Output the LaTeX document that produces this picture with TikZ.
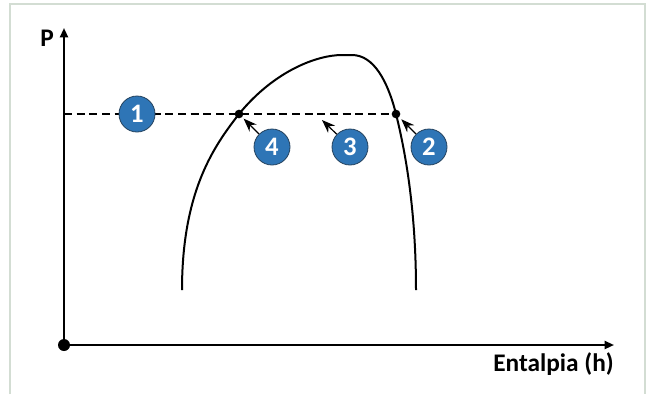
\documentclass[tikz,border=0pt]{standalone}
\usepackage{fontspec}
\setmainfont{Carlito}
\usepackage{tikz}
\usetikzlibrary{arrows.meta,positioning,calc}
\definecolor{Frame}{HTML}{D3DDD3}
\definecolor{PointBlue}{HTML}{2E75B6}
\definecolor{PointEdge}{HTML}{24425E}

\begin{document}
\begin{tikzpicture}[x=0.75pt,y=-0.75pt,
    every node/.style={font=\bfseries\fontsize{19}{22}\selectfont},
    axis/.style={line width=1.5pt,-{Triangle[length=7pt,width=6pt]}},
    num/.style={circle,fill=PointBlue,draw=PointEdge,line width=0.6pt,
      minimum size=27pt,inner sep=0pt,text=white,
      font=\bfseries\fontsize{20}{22}\selectfont},
    dot/.style={circle,fill=black,inner sep=0pt,minimum size=6.5pt},
    pointer/.style={line width=0.9pt,-{Stealth[length=10pt,width=7.5pt]}}]
      \useasboundingbox (0,0) rectangle (646,394);
      \draw[Frame,line width=1.6pt] (10,394) -- (10,4) -- (645,4) -- (645,394);

      % axes
      \node[dot,minimum size=9pt] (o) at (64,345) {};
      \coordinate (ytop) at (64,28);
      \coordinate (xend) at (614,345);
      \draw[axis] (o.center) -- (ytop);
      \draw[axis] (o.center) -- (xend);
      \node (p) at (47,38) {P};
      \node[anchor=north east,inner sep=0pt] (h) at (614,352) {Entalpia (h)};

      % saturation dome
      \node[dot] (d4) at (239,114) {};
      \node[dot] (d2) at (396,114) {};
      \draw[line width=1.5pt] (182,290) .. controls (182,190) and (215,145) .. (239,114)
        .. controls (275,70) and (318,55) .. (342,55) -- (352,55)
        .. controls (374,55) and (388,82) .. (396,114)
        .. controls (410,170) and (416,230) .. (416,290);

      % isobar
      \draw[line width=1.2pt,dash pattern=on 6pt off 3.5pt] (64,114) -- (d2.center);

      % numbered points
      \node[num] (n1) at (137,114) {1};
      \node[num] (n4) at (272,147) {4};
      \node[num] (n3) at (350,147) {3};
      \node[num] (n2) at (429,147) {2};
      \coordinate (c3) at (322,120);
      \draw[pointer] (n4) -- ($(d4)!0.14!(n4)$);
      \draw[pointer] (n3) -- (c3);
      \draw[pointer] (n2) -- ($(d2)!0.16!(n2)$);
    \end{tikzpicture}
\end{document}
